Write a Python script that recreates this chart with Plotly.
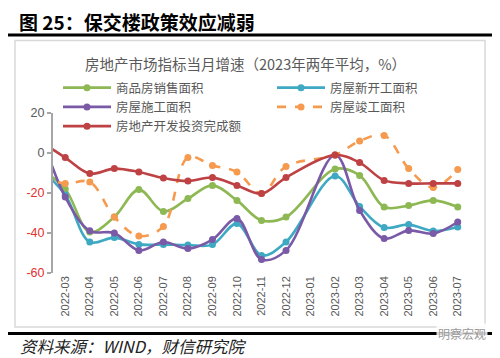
import plotly.graph_objects as go

# ---------------- data ----------------
categories = ["2022-02", "2022-03", "2022-04", "2022-05", "2022-06", "2022-07", "2022-08",
              "2022-09", "2022-10", "2022-11", "2022-12", "2023-01", "2023-02", "2023-03",
              "2023-04", "2023-05", "2023-06", "2023-07"]

sales_area = [-8, -18, -39.5, -32, -18.3, -29.2, -22.8, -16.2, -23.7, -33.7, -32, None,
              -8, -11.2, -27, -26.3, -23.7, -27]
new_starts = [-8, -21, -44.5, -42.3, -45.7, -45.8, -46, -45.8, -35.3, -51.2, -44.5, None,
              -11.5, -26.7, -37.3, -35.8, -39, -37]
construction = [10, -22, -38.9, -40, -48.7, -44.5, -47.8, -43.3, -32.8, -53.2, -48.7, None,
                -1, -28.7, -42.8, -38.7, -40.3, -34.5]
completions = [-12, -15.3, -14.5, -32, -41.5, -36.7, -2.2, -6.2, -9.5, -20.3, -6.7, None,
               -1, 6, 8.8, -7.8, -17.3, -8.2]
investment = [5.7, -2.3, -10.3, -7.8, -9.5, -12.5, -14, -12.3, -16.2, -20.3, -12.3, None,
              -1, -4.8, -13.7, -15.2, -15.2, -15.2]

y_tick_vals = [-60, -40, -20, 0, 20]
y_tick_text = ['<span style="color:#E0312E">-60</span>',
               '<span style="color:#E0312E">-40</span>',
               '<span style="color:#E0312E">-20</span>',
               '0', '20']

series = [
    ("商品房销售面积", sales_area, "#8DB853", "solid", "legend"),
    ("房屋新开工面积", new_starts, "#3FA9C4", "solid", "legend2"),
    ("房屋施工面积", construction, "#7A59A6", "solid", "legend"),
    ("房屋竣工面积", completions, "#F59A4E", "dash", "legend2"),
    ("房地产开发投资完成额", investment, "#BE4144", "solid", "legend"),
]

# ---------------- geometry helpers ----------------
# the page body adds an 8px offset; all positions below are in screenshot pixels
OFF = 8
W, H = 500, 358
L, R, T, B = 53 - OFF, 470 - OFF, 113 - OFF, 273 - OFF


def pxx(p):
    return (p - OFF - L) / (R - L)


def pxy(p):
    return (B - (p - OFF)) / (B - T)


CJK = "Noto Sans CJK SC"
GRAY = "#595959"

fig = go.Figure()
for name, vals, color, dash, lg in series:
    fig.add_trace(go.Scatter(
        x=categories, y=vals, name=name, mode="lines+markers",
        line=dict(color=color, width=2.6, dash=dash, shape="spline", smoothing=1.0),
        marker=dict(color=color, size=7),
        connectgaps=True, legend=lg,
    ))

n = len(categories)
fig.update_layout(
    width=W, height=H,
    margin=dict(l=L, r=W - R, t=T, b=H - B, pad=0, autoexpand=False),
    paper_bgcolor="white", plot_bgcolor="white",
    showlegend=True,
    xaxis=dict(type="category", categoryorder="array", categoryarray=categories,
               range=[0.5, n - 0.5], showline=False, showgrid=False, zeroline=False,
               ticks="", tickangle=-90,
               tickfont=dict(family="Liberation Sans", size=11, color=GRAY)),
    xaxis2=dict(matches="x", overlaying="x", anchor="free", position=0.75, side="bottom",
                showline=True, linecolor="#A6A6A6", linewidth=2,
                ticks="inside", tickson="boundaries", ticklen=4, tickwidth=1.5,
                tickcolor="#A6A6A6", showticklabels=False, showgrid=False, zeroline=False),
    yaxis=dict(range=[-60, 20], tickvals=y_tick_vals, ticktext=y_tick_text,
               showline=True, linecolor="#A6A6A6", linewidth=2, ticks="outside",
               ticklen=4, tickwidth=1.5, tickcolor="#A6A6A6", showgrid=False, zeroline=False,
               tickfont=dict(family="Liberation Sans", size=12.5, color=GRAY)),
    legend=dict(x=pxx(58), y=pxy(73), xanchor="left", yanchor="top", orientation="v",
                bgcolor="rgba(0,0,0,0)", itemwidth=48, tracegroupgap=0,
                font=dict(family=CJK, size=12.5, color=GRAY)),
    legend2=dict(x=pxx(272), y=pxy(73), xanchor="left", yanchor="top", orientation="v",
                 bgcolor="rgba(0,0,0,0)", itemwidth=48, tracegroupgap=0,
                 font=dict(family=CJK, size=12.5, color=GRAY)),
)

# frame, rules
fig.add_shape(type="rect", xref="paper", yref="paper",
              x0=pxx(15), x1=pxx(485), y0=pxy(327), y1=pxy(40.5),
              line=dict(color="#D9D9D9", width=1.5), layer="below")
fig.add_shape(type="line", xref="paper", yref="paper",
              x0=pxx(5), x1=pxx(500), y0=pxy(35), y1=pxy(35),
              line=dict(color="black", width=3))
fig.add_shape(type="line", xref="paper", yref="paper",
              x0=pxx(5), x1=pxx(500), y0=pxy(333.5), y1=pxy(333.5),
              line=dict(color="black", width=3))

# texts
fig.add_annotation(text="<b>图 25：保交楼政策效应减弱</b>", xref="paper", yref="paper",
                   x=pxx(17), y=pxy(21), xanchor="left", yanchor="middle", showarrow=False,
                   font=dict(family=CJK, size=19, color="black"))
fig.add_annotation(text="房地产市场指标当月增速（2023年两年平均，%）", xref="paper", yref="paper",
                   x=pxx(245), y=pxy(63), xanchor="center", yanchor="middle", showarrow=False,
                   font=dict(family=CJK, size=14.5, color=GRAY))
fig.add_annotation(text="资料来源：WIND，财信研究院", xref="paper", yref="paper",
                   x=pxx(19), y=pxy(345.5), xanchor="left", yanchor="middle", showarrow=False,
                   borderpad=0,
                   font=dict(family=CJK, size=16.5, color="#222222", style="italic"))
fig.add_annotation(text="明察宏观", xref="paper", yref="paper",
                   x=pxx(462), y=pxy(333), xanchor="center", yanchor="middle", showarrow=False,
                   bgcolor="rgba(255,255,255,0.85)",
                   font=dict(family=CJK, size=12, color="#9A9A9A"))

fig.write_html("out.html")
